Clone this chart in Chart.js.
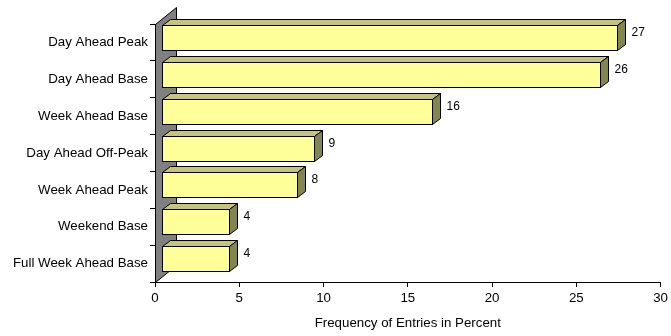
<!DOCTYPE html>
<html>
<head>
<meta charset="utf-8">
<script src="https://cdn.jsdelivr.net/npm/chart.js@4/dist/chart.umd.min.js"></script>
<style>
  html, body { margin: 0; padding: 0; background: #fff; }
  #c { display: block; }
</style>
</head>
<body>
<canvas id="c" width="671" height="336"></canvas>
<script>
const categories = ['Day Ahead Peak', 'Day Ahead Base', 'Week Ahead Base', 'Day Ahead Off-Peak', 'Week Ahead Peak', 'Weekend Base', 'Full Week Ahead Base'];
const values = [27, 26, 16, 9, 8, 4, 4];
const xTickValues = [0, 5, 10, 15, 20, 25, 30];
const axisTitle = 'Frequency of Entries in Percent';

const FONT = "'Liberation Sans', Arial, sans-serif";
const FRONT = '#FFFF99';
const TOP = '#C4C47A';
const SIDE = '#85854F';
const WALL = '#808080';
const BAR_DX = 8, BAR_DY = 6;     // bar depth
const BAR_SHIFT_X = 7, BAR_SHIFT_Y = -5;
const WALL_DX = 21, WALL_DY = 17;  // wall depth

const box3d = {
  id: 'box3d',
  beforeDatasetsDraw(chart) {
    const ctx = chart.ctx;
    const ca = chart.chartArea;
    const L = Math.round(ca.left) + 0.5, T = Math.round(ca.top) + 0.5, B = Math.round(ca.bottom) + 0.5;
    ctx.save();
    ctx.beginPath();
    ctx.moveTo(L, B);
    ctx.lineTo(L, T);
    ctx.lineTo(L + WALL_DX, T - WALL_DY);
    ctx.lineTo(L + WALL_DX, B - WALL_DY);
    ctx.closePath();
    ctx.fillStyle = WALL;
    ctx.fill();
    ctx.strokeStyle = '#000';
    ctx.lineWidth = 1;
    ctx.stroke();
    ctx.restore();
  },
  afterDatasetsDraw(chart) {
    const ctx = chart.ctx;
    const meta = chart.getDatasetMeta(0);
    const xs = chart.scales.x;
    ctx.save();
    ctx.lineWidth = 1;
    ctx.strokeStyle = '#000';
    ctx.lineJoin = 'miter';
    meta.data.forEach((el, i) => {
      const p = el.getProps(['x', 'y', 'base', 'height'], true);
      const x0 = Math.round(xs.getPixelForValue(0) + BAR_SHIFT_X) + 0.5;
      const x1 = Math.round(p.x + BAR_SHIFT_X) + 0.5;
      const fy = Math.round(p.y - p.height / 2 + BAR_SHIFT_Y) + 0.5;
      const h = Math.round(p.height);
      // top face
      ctx.beginPath();
      ctx.moveTo(x0, fy);
      ctx.lineTo(x0 + BAR_DX, fy - BAR_DY);
      ctx.lineTo(x1 + BAR_DX, fy - BAR_DY);
      ctx.lineTo(x1, fy);
      ctx.closePath();
      ctx.fillStyle = TOP; ctx.fill(); ctx.stroke();
      // side face
      ctx.beginPath();
      ctx.moveTo(x1, fy);
      ctx.lineTo(x1 + BAR_DX, fy - BAR_DY);
      ctx.lineTo(x1 + BAR_DX, fy + h - BAR_DY);
      ctx.lineTo(x1, fy + h);
      ctx.closePath();
      ctx.fillStyle = SIDE; ctx.fill(); ctx.stroke();
      // front face
      ctx.fillStyle = FRONT;
      ctx.fillRect(x0, fy, x1 - x0, h);
      ctx.strokeRect(x0, fy, x1 - x0, h);
      // value label
      ctx.fillStyle = '#000';
      ctx.font = '12px ' + FONT;
      ctx.textAlign = 'left';
      ctx.textBaseline = 'middle';
      ctx.fillText(String(values[i]), x1 + BAR_DX + 6, fy + h / 2 - 5);
    });
    ctx.restore();
  }
};

new Chart(document.getElementById('c'), {
  type: 'bar',
  data: {
    labels: categories,
    datasets: [{
      data: values,
      backgroundColor: 'rgba(0,0,0,0)',
      borderWidth: 0,
      barPercentage: 0.678,
      categoryPercentage: 1
    }]
  },
  options: {
    indexAxis: 'y',
    responsive: false,
    animation: false,
    devicePixelRatio: 1,
    layout: { padding: { top: 24, right: 9, left: 0, bottom: 0 } },
    plugins: { legend: { display: false }, tooltip: { enabled: false } },
    scales: {
      x: {
        min: 0, max: 30,
        afterBuildTicks: s => { s.ticks = xTickValues.map(v => ({ value: v })); },
        ticks: { color: '#000', font: { family: FONT, size: 13.3 }, padding: 3, maxRotation: 0 },
        grid: { display: true, drawOnChartArea: false, tickLength: 5, color: '#000' },
        border: { display: true, color: '#000', width: 1 },
        title: { display: true, text: axisTitle, color: '#000', font: { family: FONT, size: 13.3 }, padding: { top: 0, bottom: 5 } },
        afterFit: s => { s.height = 54; }
      },
      y: {
        ticks: { color: '#000', font: { family: FONT, size: 13.3 }, padding: 2 },
        grid: { display: true, drawOnChartArea: false, tickLength: 5, color: '#000', offset: true },
        border: { display: true, color: '#000', width: 1 },
        afterFit: s => { s.width = 155; }
      }
    }
  },
  plugins: [box3d]
});
</script>
</body>
</html>
